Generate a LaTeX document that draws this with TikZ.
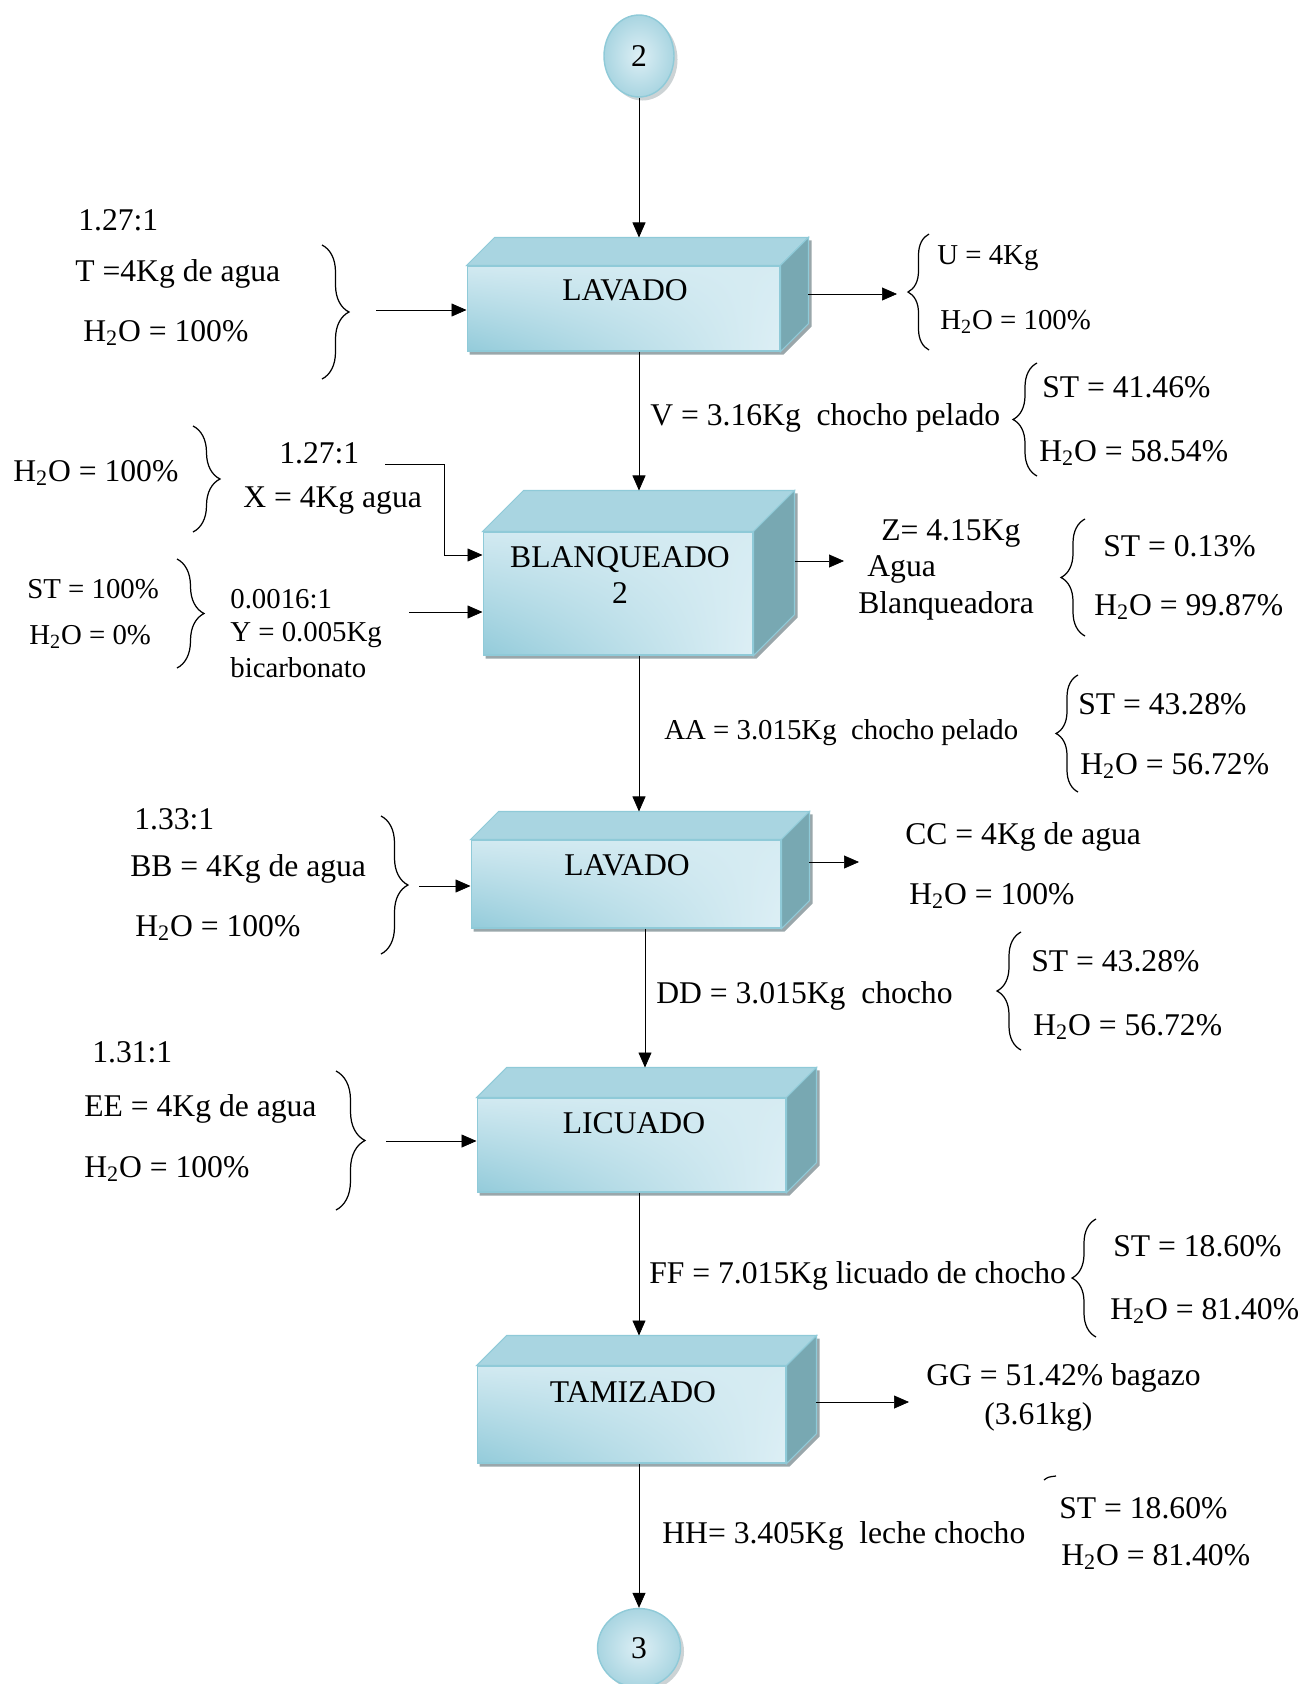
\documentclass[tikz,border=0pt]{standalone}
\usepackage{fontspec}
\setmainfont{Liberation Serif}
\usepackage{tikz}
\usetikzlibrary{arrows.meta, shapes.geometric, shadings, shadows, decorations.pathreplacing}
\tikzset{>={Triangle[length=3mm,width=2.6mm]}}
\pgfdeclarelayer{fondo}
\pgfsetlayers{fondo,main}

\definecolor{cuboclaro}{HTML}{DDEFF5}
\definecolor{cuboosc}{HTML}{93CBDA}
\definecolor{cubotapa}{HTML}{A9D5E1}
\definecolor{cubolado}{HTML}{78A8B2}
\definecolor{cuboborde}{HTML}{8FCAD8}
\definecolor{sombracubo}{HTML}{9AA7AB}

% caras de arriba y de lado de una caja (nombre, profundidad)
\newcommand{\cubo}[2]{%
  \filldraw[caratapa] (#1.north west) -- ++(#2,-#2) -- ([shift={(#2,-#2)}]#1.north east) -- (#1.north east) -- cycle;
  \filldraw[caralado] (#1.north east) -- ++(#2,-#2) -- ([shift={(#2,-#2)}]#1.south east) -- (#1.south east) -- cycle;
  \coordinate (#1-top) at ([shift={(#2,-#2)}]#1.north);
  \begin{pgfonlayer}{fondo}
    \fill[sombracubo] ([shift={(3,3)}]#1.south west) -- ([shift={(3,3)}]#1.south east)
      -- ([shift={(#2+3,-#2+3)}]#1.south east) -- ([shift={(#2+3,-#2+3)}]#1.north east)
      -- ([shift={(#2+3,-#2+3)}]#1.north west) -- ([shift={(3,3)}]#1.north west) -- cycle;
  \end{pgfonlayer}
}

\begin{document}
\begin{tikzpicture}[x=0.02cm, y=-0.02cm, line width=0.85pt,
  frente/.style={rectangle, draw=cuboborde, line width=0.6pt, shade, shading=bilinear interpolation,
    lower left=cuboosc, upper left=cuboclaro!85!cuboosc, upper right=cuboclaro!90!cuboosc, lower right=cuboclaro},
  caratapa/.style={fill=cubotapa, draw=cuboborde, line width=0.6pt},
  caralado/.style={fill=cubolado, draw=cuboborde, line width=0.6pt},
  conector/.style={ellipse, draw=cuboborde, line width=0.8pt, inner color=cuboclaro, outer color=cubotapa,
    drop shadow={shadow xshift=2pt, shadow yshift=-2pt, fill=sombracubo}, font=\fontsize{18}{21}\selectfont},
  cajatxt/.style={inner sep=0pt, align=center, font=\fontsize{18}{20.4}\selectfont},
  etiq/.style={anchor=west, inner sep=0pt, font=\fontsize{18}{21}\selectfont},
  etiqp/.style={etiq, font=\fontsize{16.4}{19}\selectfont},
  llave/.style={decorate, decoration={brace, amplitude=#1}, line width=0.7pt},
  llave/.default=0.5cm]

    \useasboundingbox (0,0) rectangle (1301,1684);

    %Conectores
    \node[conector, minimum width=1.40cm, minimum height=1.64cm](c2) at (639,56){2};
    \node[conector, minimum width=1.66cm, minimum height=1.58cm](c3) at (639,1648){3};

    %Cajas
    \node[frente, minimum width=6.26cm, minimum height=1.70cm](lav1) at (623.5,308.5){};
    \cubo{lav1}{28}
    \node[cajatxt](lav1t) at (625,290){LAVADO};

    \node[frente, minimum width=5.40cm, minimum height=2.46cm](blq) at (618,593.5){};
    \cubo{blq}{41}
    \node[cajatxt](blqt) at (620,575){BLANQUEADO\\2};

    \node[frente, minimum width=6.20cm, minimum height=1.76cm](lav2) at (626,884){};
    \cubo{lav2}{28}
    \node[cajatxt](lav2t) at (627,865){LAVADO};

    \node[frente, minimum width=6.18cm, minimum height=1.88cm](lic) at (631.5,1145){};
    \cubo{lic}{30}
    \node[cajatxt](lict) at (634,1123){LICUADO};

    \node[frente, minimum width=6.18cm, minimum height=1.94cm](tam) at (631.5,1414.5){};
    \cubo{tam}{30}
    \node[cajatxt](tamt) at (633,1392){TAMIZADO};

    %Textos lavado 1
    \node[etiq](r1) at (78,220){1.27:1};
    \node[etiq](t1) at (75,274){T =4Kg de agua};
    \node[etiq](h1) at (83,333){H\textsubscript{2}O = 100\%};
    \node[etiqp](u1) at (937,258){U = 4Kg};
    \node[etiqp](h2) at (940,322){H\textsubscript{2}O = 100\%};
    \node[etiq](v1) at (650,418){V = 3.16Kg\ \ chocho pelado};
    \node[etiq](st1) at (1042,387){ST = 41.46\%};
    \node[etiq](h3) at (1039,453){H\textsubscript{2}O = 58.54\%};

    %Textos blanqueado
    \node[etiq](h4) at (13,473){H\textsubscript{2}O = 100\%};
    \node[etiq](r2) at (279,453){1.27:1};
    \node[etiq](xa) at (243,500){X = 4Kg agua};
    \node[etiqp](st2) at (27,589){ST = 100\%};
    \node[etiqp](h5) at (29,637){H\textsubscript{2}O = 0\%};
    \node[etiqp](r3) at (230,599){0.0016:1};
    \node[etiqp](ya) at (230,635){Y = 0.005Kg};
    \node[etiqp](bic) at (230,668){bicarbonato};
    \node[etiq](za) at (881,533){Z= 4.15Kg};
    \node[etiq](za2) at (867,569){Agua};
    \node[etiq](za3) at (858,606){Blanqueadora};
    \node[etiq](st3) at (1103,546){ST = 0.13\%};
    \node[etiq](h6) at (1094,607){H\textsubscript{2}O = 99.87\%};
    \node[etiqp](aa) at (664,733){AA = 3.015Kg\ \ chocho pelado};
    \node[etiq](st4) at (1078,704){ST = 43.28\%};
    \node[etiq](h7) at (1080,766){H\textsubscript{2}O = 56.72\%};

    %Textos lavado 2
    \node[etiq](r4) at (134,819){1.33:1};
    \node[etiq](bb) at (130,869){BB = 4Kg de agua};
    \node[etiq](h8) at (135,928){H\textsubscript{2}O = 100\%};
    \node[etiq](cc) at (905,837){CC = 4Kg de agua};
    \node[etiq](h9) at (909,896){H\textsubscript{2}O = 100\%};
    \node[etiq](dd) at (656,996){DD = 3.015Kg\ \ chocho};
    \node[etiq](st5) at (1031,961){ST = 43.28\%};
    \node[etiq](h10) at (1033,1027){H\textsubscript{2}O = 56.72\%};

    %Textos licuado y tamizado
    \node[etiq](r5) at (92,1052){1.31:1};
    \node[etiq](ee) at (84,1109){EE = 4Kg de agua};
    \node[etiq](h11) at (84,1169){H\textsubscript{2}O = 100\%};
    \node[etiq](ff) at (649,1276){FF = 7.015Kg licuado de chocho};
    \node[etiq](st6) at (1113,1246){ST = 18.60\%};
    \node[etiq](h12) at (1110,1311){H\textsubscript{2}O = 81.40\%};
    \node[etiq](gg) at (926,1378){GG = 51.42\% bagazo};
    \node[etiq](gg2) at (984,1417){(3.61kg)};
    \node[etiq](hh) at (662,1536){HH= 3.405Kg\ \ leche chocho};
    \node[etiq](st7) at (1059,1508){ST = 18.60\%};
    \node[etiq](h13) at (1061,1557){H\textsubscript{2}O = 81.40\%};

    %Llaves
    \draw[llave=0.54cm] (322,245) -- (322,379);
    \draw[llave=0.42cm] (929,350) -- (929,234);
    \draw[llave=0.48cm] (1037,476) -- (1037,363);
    \draw[llave=0.54cm] (193,426) -- (193,532);
    \draw[llave=0.54cm] (177,559) -- (177,668);
    \draw[llave=0.48cm] (1085,636) -- (1085,519);
    \draw[llave=0.44cm] (1078,792) -- (1078,675);
    \draw[llave=0.54cm] (381,816) -- (381,954);
    \draw[llave=0.48cm] (1021,1050) -- (1021,932);
    \draw[llave=0.58cm] (336,1071) -- (336,1210);
    \draw[llave=0.48cm] (1096,1337) -- (1096,1219);
    \draw[line width=0.7pt] (1044,1480) .. controls (1048,1477) .. (1056,1476);

    %Flechas verticales
    \draw[->] (c2) -- (c2 |- lav1-top);
    \draw[->] (c2 |- lav1.south) -- (c2 |- blq-top);
    \draw[->] (c2 |- blq.south) -- (c2 |- lav2-top);
    \draw[->] ([xshift=0.12cm]c2 |- lav2.south) -- ([xshift=0.12cm]c2 |- lic-top);
    \draw[->] (c2 |- lic.south) -- (c2 |- tam-top);
    \draw[->] (c2 |- tam.south) -- (c3);

    %Entradas y salidas
    \coordinate (e1) at (376,310);
    \draw[->] (e1) -- (e1 -| lav1.west);
    \coordinate (s1) at (897,294);
    \draw[->] ([xshift=0.56cm]lav1.east |- s1) -- (s1);
    \coordinate (x1) at (385,464);
    \coordinate (x2) at (444,555);
    \draw[->] (x1) -| (x2) -- (x2 -| blq.west);
    \coordinate (y1) at (409,612);
    \draw[->] (y1) -- (y1 -| blq.west);
    \coordinate (z1) at (844,561);
    \draw[->] ([xshift=0.82cm]blq.east |- z1) -- (z1);
    \coordinate (e2) at (419,886);
    \draw[->] (e2) -- (e2 -| lav2.west);
    \coordinate (s2) at (859,862);
    \draw[->] ([xshift=0.56cm]lav2.east |- s2) -- (s2);
    \coordinate (e3) at (386,1141);
    \draw[->] (e3) -- (e3 -| lic.west);
    \coordinate (s3) at (909,1402);
    \draw[->] ([xshift=0.6cm]tam.east |- s3) -- (s3);

\end{tikzpicture}
\end{document}
